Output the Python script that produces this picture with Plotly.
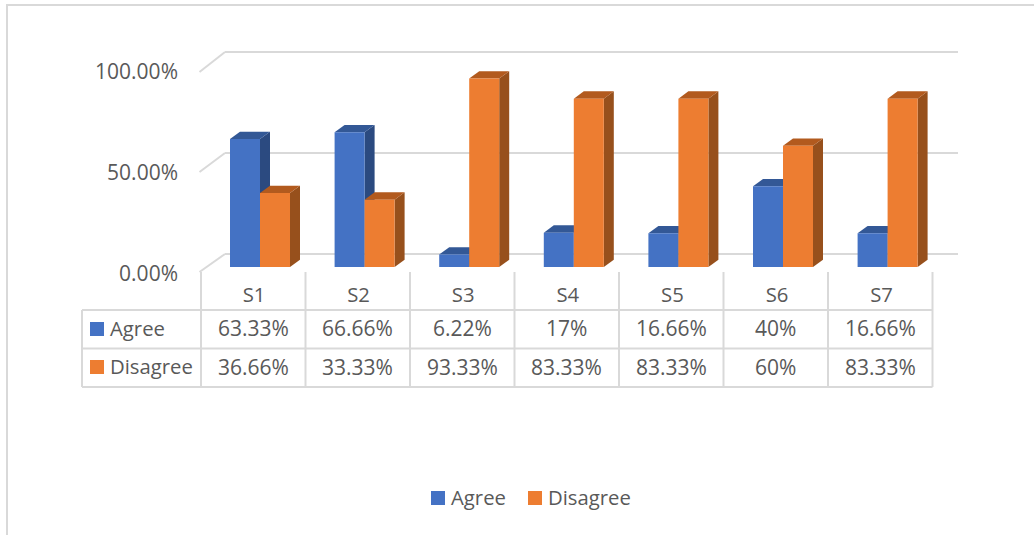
import plotly.graph_objects as go

categories = ["S1", "S2", "S3", "S4", "S5", "S6", "S7"]
agree = [63.33, 66.66, 6.22, 17, 16.66, 40, 16.66]
disagree = [36.66, 33.33, 93.33, 83.33, 83.33, 60, 83.33]
agree_labels = ["63.33%", "66.66%", "6.22%", "17%", "16.66%", "40%", "16.66%"]
disagree_labels = ["36.66%", "33.33%", "93.33%", "83.33%", "83.33%", "60%", "83.33%"]
y_ticks = [0, 50, 100]
y_tick_labels = ["0.00%", "50.00%", "100.00%"]

W, H = 1034, 535
X0, XS = 260.0, 104.6   # pixel of category 0 centre, px per category
Y0, YS = 267.0, 2.02    # pixel of value 0, px per percent
BLUE, ORANGE = "#4472C4", "#ED7D31"
BLUE_SIDE, BLUE_TOP = "#2B4A80", "#335896"
ORANGE_SIDE, ORANGE_TOP = "#97501C", "#B25A1E"
GRID = "#D9D9D9"
TEXT = "#595959"
FONT = "Open Sans"
FS_WORD = 20.3
FS_NUM = 21

BAR_W = 30 / XS
DX, DY = 10 / XS, 7.3 / YS
positions = list(range(len(categories)))


def px(x):
    return x / W


def py(y):
    return 1 - y / H


shapes = []


def line_paper(x0, y0, x1, y1, width=1.5, color=GRID):
    shapes.append(dict(type="line", xref="paper", yref="paper", x0=px(x0), y0=py(y0), x1=px(x1), y1=py(y1),
                       line=dict(color=color, width=width), layer="below"))


# outer frame: top and left edges only are visible
line_paper(6, 5, 1034, 5, 2)
line_paper(7, 5, 7, 535, 2)

# back wall gridlines and slanted floor/wall edges
BACK_L, BACK_R, FRONT_L = (225 - X0) / XS, (958 - X0) / XS, (199.5 - X0) / XS
for v in y_ticks:
    back = v + 6.44
    front = v * 0.99 - 2.5
    shapes.append(dict(type="line", xref="x", yref="y", x0=BACK_L, x1=BACK_R, y0=back, y1=back,
                       line=dict(color=GRID, width=2), layer="below"))
    shapes.append(dict(type="line", xref="x", yref="y", x0=FRONT_L, x1=BACK_L, y0=front, y1=back,
                       line=dict(color=GRID, width=2), layer="below"))


def path(points):
    return "M" + " L".join(f"{a},{b}" for a, b in points) + " Z"


def faces(xl, value, side, top):
    xr = xl + BAR_W
    shapes.append(dict(type="path", xref="x", yref="y", layer="below", fillcolor=side, line=dict(width=0),
                       path=path([(xr, 0), (xr + DX, DY), (xr + DX, value + DY), (xr, value)])))
    shapes.append(dict(type="path", xref="x", yref="y", layer="below", fillcolor=top, line=dict(width=0),
                       path=path([(xl, value), (xl + DX, value + DY), (xr + DX, value + DY), (xr, value)])))


for i in positions:
    faces(i - BAR_W, agree[i], BLUE_SIDE, BLUE_TOP)
    faces(i, disagree[i], ORANGE_SIDE, ORANGE_TOP)

# data table grid
COL0, COLN = 201.0, 932.5
COLW = (COLN - COL0) / len(categories)
ROWS = [310, 348.5, 387]
for r in ROWS:
    line_paper(82, r, COLN, r, 2)
line_paper(82, ROWS[0], 82, ROWS[2], 2)
for i in range(len(categories) + 1):
    xv = COL0 + i * COLW
    line_paper(xv, 272, xv, ROWS[2], 2)

annotations = []


def label(x, y, text, anchor="center", size=FS_WORD):
    annotations.append(dict(xref="paper", yref="paper", x=px(x), y=py(y), text=text, showarrow=False,
                            xanchor=anchor, yanchor="middle", font=dict(family=FONT, size=size, color=TEXT)))


def swatch(x0, y0, size, color):
    shapes.append(dict(type="rect", xref="paper", yref="paper", x0=px(x0), x1=px(x0 + size),
                       y0=py(y0), y1=py(y0 + size), fillcolor=color, line=dict(width=0), layer="above"))


for i in positions:
    cx = COL0 + (i + 0.5) * COLW
    label(cx, 328, agree_labels[i], size=FS_NUM)
    label(cx, 366.5, disagree_labels[i], size=FS_NUM)

swatch(90, 322, 14, BLUE)
swatch(90, 360, 14, ORANGE)
label(108, 328, "Agree", "left")
label(108, 366, "Disagree", "left")

# legend
swatch(431, 491, 14, BLUE)
swatch(528, 491, 14, ORANGE)
label(449, 497, "Agree", "left")
label(546, 497, "Disagree", "left")

fig = go.Figure()
fig.add_trace(go.Bar(name="Agree", x=positions, y=agree, marker=dict(color=BLUE, line=dict(width=0))))
fig.add_trace(go.Bar(name="Disagree", x=positions, y=disagree, marker=dict(color=ORANGE, line=dict(width=0))))

fig.update_layout(
    width=W, height=H, margin=dict(l=0, r=0, t=0, b=0),
    paper_bgcolor="white", plot_bgcolor="rgba(0,0,0,0)",
    barmode="group", bargap=1 - 2 * BAR_W, bargroupgap=0, showlegend=False,
    shapes=shapes, annotations=annotations,
    font=dict(family=FONT, size=FS_WORD, color=TEXT),
    xaxis=dict(range=[-X0 / XS, (W - X0) / XS], tickmode="array", tickvals=positions, ticktext=categories,
               showgrid=False, zeroline=False, showline=False, ticks="",
               anchor="free", position=py(281), ticklabelshift=-6, domain=[0, 1]),
    yaxis=dict(range=[(Y0 - H) / YS, Y0 / YS], tickmode="array", tickvals=y_ticks, ticktext=y_tick_labels,
               showgrid=False, zeroline=False, showline=False, ticks="", tickfont=dict(size=FS_NUM),
               anchor="free", position=px(178), ticklabelshift=7, domain=[0, 1]),
)

fig.write_html("out.html", config={"displayModeBar": False},
               post_script="document.body.style.margin='0';document.documentElement.style.overflow='hidden';")
